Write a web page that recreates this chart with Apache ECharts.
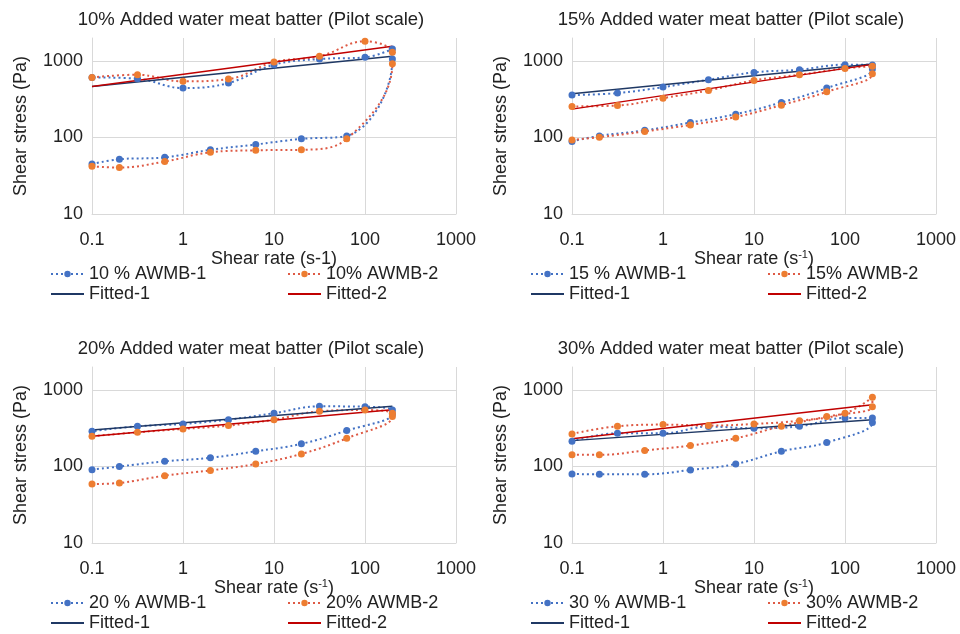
<!DOCTYPE html>
<html>
<head>
<meta charset="utf-8">
<title>Shear stress vs shear rate</title>
<script src="https://cdn.jsdelivr.net/npm/echarts@6/dist/echarts.min.js"></script>
<style>
    html, body { margin: 0; padding: 0; background: #fff; }
    #chart { width: 960px; height: 634px; }
</style>
</head>
<body>
<div id="chart"></div>
<script>
// shear rate steps: ramp up then ramp down (hysteresis loop)
var rateUp = [0.1, 0.2, 0.63, 2, 6.3, 20, 63, 200];
var rateDown = [200, 100, 31.6, 10, 3.16, 1, 0.316, 0.1];
var fitRate = [0.1, 200];

var titles = [
    '10% Added water meat batter (Pilot scale)',
    '15% Added water meat batter (Pilot scale)',
    '20% Added water meat batter (Pilot scale)',
    '30% Added water meat batter (Pilot scale)'
];
var names1 = ['10 % AWMB-1', '15 % AWMB-1', '20 % AWMB-1', '30 % AWMB-1'];
var names2 = ['10% AWMB-2', '15% AWMB-2', '20% AWMB-2', '30% AWMB-2'];

// shear stress (Pa), up values then down values
var aw10_1 = [45, 52, 55, 69, 81, 96, 105, 1063, 1436, 1117, 1062, 895, 515, 443, 587, 611];
var aw10_2 = [42, 40.5, 48.5, 64, 68, 69, 96, 923, 1298, 1811, 1151, 971, 581, 542, 662, 611];
var aw15_1 = [89, 105, 124, 157, 202, 287, 443, 786, 887, 896, 770, 710, 569, 456, 381, 359];
var aw15_2 = [93, 101, 120, 146, 185, 265, 396, 682, 852, 801, 662, 558, 413, 327, 262, 255];
var aw20_1 = [91, 100, 117, 130, 158, 198, 295, 487, 548, 606, 612, 497, 410, 360, 336, 289];
var aw20_2 = [59, 61, 76, 89, 108, 146, 234, 449, 497, 548, 527, 410, 343, 310, 280, 249];
var aw30_1 = [80, 79, 79, 90, 108, 158, 206, 375, 432, 432, 336, 316, 333, 272, 272, 214];
var aw30_2 = [143, 142, 162, 188, 234, 336, 449, 606, 802, 497, 398, 360, 343, 353, 336, 267];

// power law fits, values at 0.1 and 200 s-1
var fit10_1 = [466, 1151];
var fit10_2 = [463, 1556];
var fit15_1 = [373, 914];
var fit15_2 = [235, 904];
var fit20_1 = [301, 612];
var fit20_2 = [249, 554];
var fit30_1 = [218, 410];
var fit30_2 = [230, 644];

var measured1 = [aw10_1, aw15_1, aw20_1, aw30_1];
var measured2 = [aw10_2, aw15_2, aw20_2, aw30_2];
var fitted1 = [fit10_1, fit15_1, fit20_1, fit30_1];
var fitted2 = [fit10_2, fit15_2, fit20_2, fit30_2];

var FONT = 'Liberation Sans, Arial, sans-serif';
var TXT = '#222';
var GRIDC = '#d9d9d9';

function pairs(xs, ys) {
    var out = [];
    for (var i = 0; i < ys.length; i++) out.push([xs[i], ys[i]]);
    return out;
}

var allRate = rateUp.concat(rateDown);

var option = {
    animation: false,
    backgroundColor: '#fff',
    title: [], grid: [], xAxis: [], yAxis: [], legend: [], series: []
};

for (var p = 0; p < 4; p++) {
    var col = p % 2, row = Math.floor(p / 2);
    var dx = col * 480, dy = row * 329;

    option.title.push({
        text: titles[p],
        left: 246 + dx, top: 5 + dy,
        textAlign: 'center',
        textStyle: { fontFamily: FONT, fontSize: 18.5, fontWeight: 'normal', color: TXT }
    });
    option.grid.push({ left: 92 + dx, top: 38 + dy, width: 364, height: 176 });

    option.xAxis.push({
        gridIndex: p, type: 'log', logBase: 10, min: 0.1, max: 1000,
        name: p == 0 ? 'Shear rate (s-1)' : 'Shear rate (s{sup|-1})',
        nameLocation: 'middle', nameGap: 33,
        nameTextStyle: {
            fontFamily: FONT, fontSize: 18, color: TXT,
            rich: { sup: { fontFamily: FONT, fontSize: 11, color: TXT, verticalAlign: 'top', padding: [0, 0, 7, 0] } }
        },
        axisLine: { show: true, lineStyle: { color: GRIDC, width: 1 } },
        axisTick: { show: false },
        axisLabel: {
            margin: 17, fontFamily: FONT, fontSize: 18, color: TXT,
            formatter: function (v) { return String(Math.round(v * 10) / 10); }
        },
        splitLine: { show: true, lineStyle: { color: GRIDC, width: 1 } }
    });
    option.yAxis.push({
        gridIndex: p, type: 'log', logBase: 10, min: 10, max: 2000,
        name: 'Shear stress (Pa)',
        nameLocation: 'middle', nameGap: 62,
        nameTextStyle: { fontFamily: FONT, fontSize: 18, color: TXT },
        axisLine: { show: true, lineStyle: { color: GRIDC, width: 1 } },
        axisTick: { show: false },
        axisLabel: {
            margin: 9, fontFamily: FONT, fontSize: 18, color: TXT, showMaxLabel: false,
            formatter: function (v) { return Math.abs(Math.log10(v) % 1) < 1e-6 ? String(Math.round(v)) : ''; }
        },
        splitLine: { show: true, showMaxLine: false, lineStyle: { color: GRIDC, width: 1 } }
    });

    // legends: two columns
    var legText = { fontFamily: FONT, fontSize: 18, color: TXT };
    option.legend.push({
        orient: 'vertical', left: 50 + dx, top: 265 + dy, height: 45, padding: 0,
        itemWidth: 33, itemHeight: 8, itemGap: 2, itemTextGap: 5,
        data: [names1[p], 'Fitted-1'], textStyle: legText, selectedMode: false
    });
    option.legend.push({
        orient: 'vertical', left: 287 + dx, top: 265 + dy, height: 45, padding: 0,
        itemWidth: 33, itemHeight: 8, itemGap: 2, itemTextGap: 5,
        data: [names2[p], 'Fitted-2'], textStyle: legText, selectedMode: false
    });

    option.series.push({
        name: names1[p], type: 'line', xAxisIndex: p, yAxisIndex: p,
        data: pairs(allRate, measured1[p]), smooth: 0.4,
        symbol: 'circle', symbolSize: 7,
        itemStyle: { color: '#4472C4' },
        lineStyle: { color: '#4472C4', width: 2, type: [2, 3] }
    });
    option.series.push({
        name: names2[p], type: 'line', xAxisIndex: p, yAxisIndex: p,
        data: pairs(allRate, measured2[p]), smooth: 0.4,
        symbol: 'circle', symbolSize: 7,
        itemStyle: { color: '#ED7D31' },
        lineStyle: { color: '#DE5A45', width: 2, type: [2, 3] }
    });
    // fitted lines: no markers, hide the legend dot too
    option.series.push({
        name: 'Fitted-1', type: 'line', xAxisIndex: p, yAxisIndex: p,
        data: pairs(fitRate, fitted1[p]), symbol: 'none',
        itemStyle: { color: '#1F3864', opacity: 0 },
        lineStyle: { color: '#1F3864', width: 1.5 }
    });
    option.series.push({
        name: 'Fitted-2', type: 'line', xAxisIndex: p, yAxisIndex: p,
        data: pairs(fitRate, fitted2[p]), symbol: 'none',
        itemStyle: { color: '#C00000', opacity: 0 },
        lineStyle: { color: '#C00000', width: 1.5 }
    });
}

var myChart = echarts.init(document.getElementById('chart'));
myChart.setOption(option);
</script>
</body>
</html>
